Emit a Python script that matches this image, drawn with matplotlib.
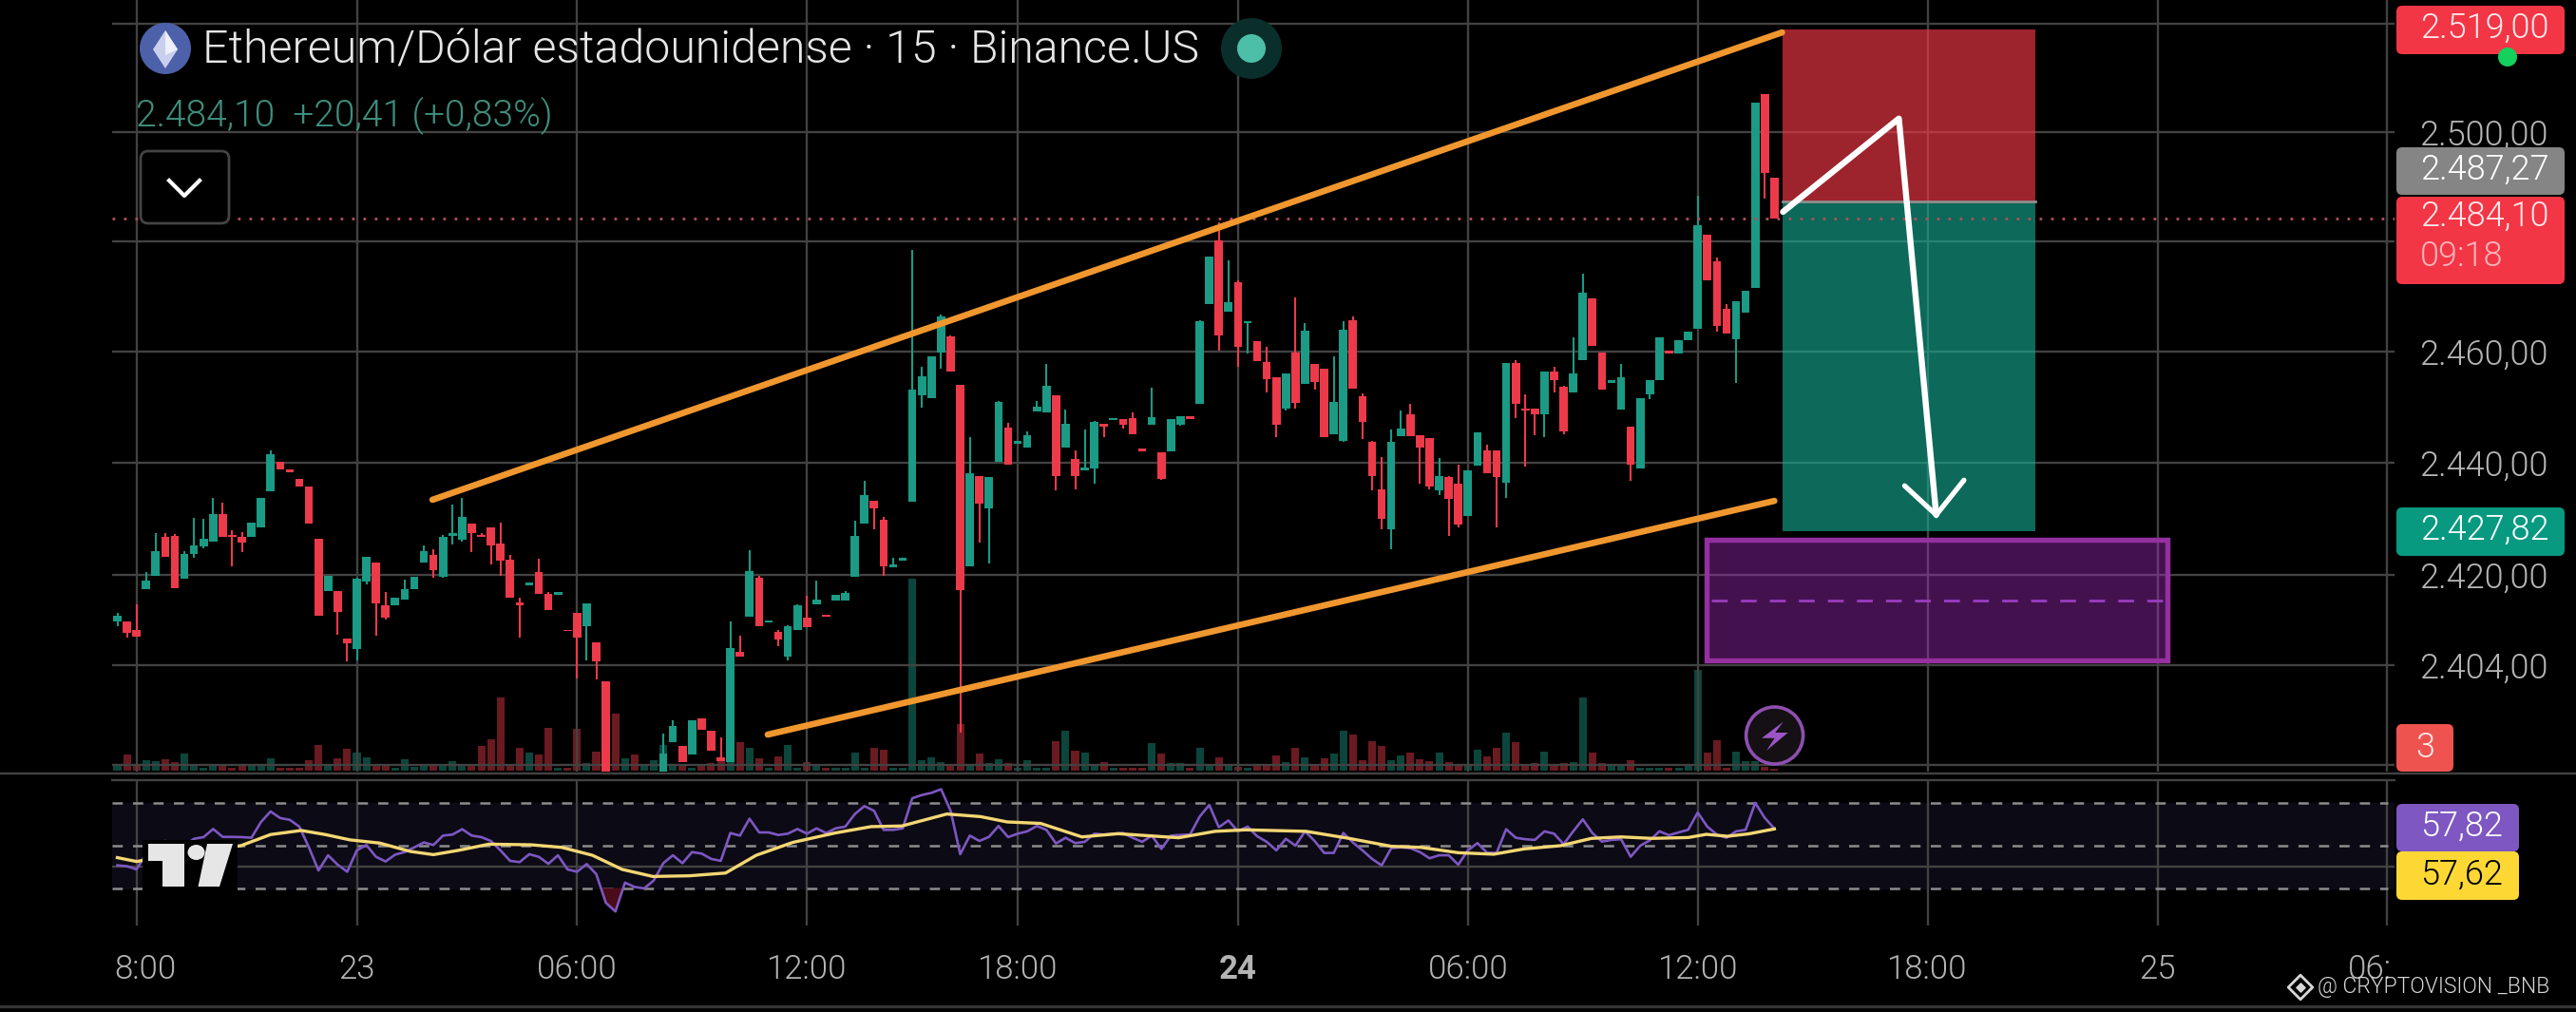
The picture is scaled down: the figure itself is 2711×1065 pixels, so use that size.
import numpy as np
import matplotlib
matplotlib.use("Agg")
import matplotlib.pyplot as plt
from matplotlib.patches import Rectangle, FancyBboxPatch, Circle, Ellipse, Polygon
from matplotlib.transforms import ScaledTranslation

W, H = 2711, 1065
DPI = 100
plt.rcParams['font.family'] = ['Roboto', 'DejaVu Sans']

opens = [2411.8,2411.8,2410.3,2417.4,2419.8,2426.8,2427.0,2419.4,2423.7,2425.1,
 2426.0,2430.9,2427.2,2426.7,2426.7,2428.4,2434.9,2440.1,2438.8,2437.2,
 2435.8,2426.5,2417.1,2417.1,2408.7,2406.9,2418.8,2422.2,2414.6,2414.6,
 2415.6,2417.4,2422.2,2423.5,2419.6,2427.0,2426.3,2429.1,2427.1,2428.5,
 2425.6,2422.7,2415.2,2418.2,2420.5,2416.6,2416.4,2410.3,2413.3,2410.9,
 2408.1,2401.2,2382.0,2378.0,2381.0,2379.0,2380.0,2383.0,2390.3,2389.7,
 2388.1,2394.6,2392.4,2387.6,2386.8,2406.4,2412.6,2419.5,2411.5,2409.9,
 2405.6,2410.2,2412.5,2414.7,2413.0,2415.4,2415.4,2419.7,2429.1,2433.2,
 2429.8,2421.4,2422.6,2433.0,2452.2,2451.6,2459.9,2462.7,
 2454.1,2421.5,2437.6,2431.9,2440.2,2446.4,2443.5,2442.7,2449.2,2449.0,
 2452.2,2442.7,2440.7,2438.7,2438.9,2447.0,2447.7,2447.9,2448.1,2442.5,
 2446.8,2441.8,2442.1,2446.9,2448.3,2450.6,2468.7,2480.1,2467.2,2472.6,
 2465.2,2461.9,2458.2,2455.3,2449.7,2459.9,2454.2,2457.7,2456.9,2445.1,
 2443.9,2465.7,2452.0,2443.7,2435.3,2428.2,2444.8,2448.8,2445.0,2444.4,
 2435.1,2437.4,2436.2,2430.5,2439.5,2442.3,2442.3,2436.5,2458.0,2449.7,
 2449.8,2448.7,2456.4,2453.7,2452.7,2458.4,2469.6,2459.9,2454.4,2449.6,
 2446.5,2439.0,2452.3,2454.9,2460.1,2459.7,2462.0,2464.2,2481.3,2476.3,
 2467.8,2462.3,2467.0,2471.5,2507.0,2491.6]
highs = [2413.3,2411.8,2414.8,2420.5,2427.4,2427.5,2427.3,2424.2,2430.1,2430.0,
 2433.7,2432.8,2427.9,2427.7,2429.4,2433.7,2442.3,2440.1,2438.8,2437.2,
 2435.8,2426.5,2419.9,2417.1,2408.7,2419.5,2423.3,2422.2,2417.0,2415.9,
 2419.2,2419.6,2425.3,2424.6,2427.2,2432.6,2433.7,2429.1,2427.4,2428.5,
 2429.3,2423.5,2415.9,2418.6,2422.9,2417.0,2416.9,2410.3,2413.3,2414.9,
 2408.1,2401.2,2384.0,2383.0,2382.0,2382.0,2384.0,2391.9,2394.2,2389.7,
 2394.2,2394.6,2392.4,2391.2,2411.8,2409.3,2424.4,2419.9,2411.9,2410.2,
 2411.1,2414.8,2416.3,2419.0,2413.0,2416.4,2417.1,2429.6,2436.7,2433.2,
 2430.3,2423.0,2423.0,2478.4,2457.2,2459.2,2466.8,2463.0,
 2454.1,2444.6,2437.7,2437.4,2451.1,2447.1,2443.9,2445.7,2451.1,2457.7,
 2452.2,2449.5,2442.2,2446.0,2447.5,2447.0,2448.0,2447.9,2449.1,2442.5,
 2453.5,2441.8,2447.9,2448.3,2448.3,2465.7,2477.2,2483.5,2476.5,2473.0,
 2465.6,2461.9,2460.8,2455.3,2456.0,2469.9,2465.2,2457.7,2456.9,2459.2,
 2465.6,2466.3,2452.5,2443.9,2441.0,2446.0,2449.4,2450.6,2445.0,2444.4,
 2440.9,2437.7,2439.6,2438.6,2445.4,2443.2,2442.3,2458.0,2458.5,2452.3,
 2449.8,2456.4,2457.3,2453.9,2462.6,2474.1,2469.6,2459.9,2454.9,2457.7,
 2446.5,2451.6,2454.9,2462.5,2460.1,2462.0,2463.7,2488.4,2481.3,2477.0,
 2468.7,2469.2,2471.0,2505.4,2507.0,2491.6]
lows = [2410.9,2408.8,2409.0,2417.4,2419.8,2423.2,2417.6,2419.4,2423.0,2424.7,
 2426.0,2426.7,2421.5,2424.0,2426.7,2428.4,2434.9,2438.8,2438.3,2435.8,
 2429.1,2412.8,2417.1,2409.4,2404.7,2404.8,2418.3,2409.2,2412.1,2414.6,
 2415.6,2417.4,2422.2,2419.5,2419.5,2425.4,2426.0,2424.1,2426.7,2421.9,
 2419.8,2415.9,2408.8,2418.2,2416.6,2413.7,2416.4,2410.0,2401.7,2404.9,
 2401.4,2380.0,2378.0,2377.0,2378.0,2378.0,2379.0,2383.0,2390.3,2386.8,
 2388.1,2392.5,2388.8,2387.0,2386.8,2405.6,2412.6,2410.9,2411.5,2407.4,
 2404.9,2410.2,2410.8,2414.7,2412.6,2415.4,2415.4,2419.7,2429.1,2428.1,
 2419.9,2421.4,2422.6,2433.0,2449.9,2451.6,2457.0,2456.4,
 2392.0,2421.5,2425.8,2422.1,2440.2,2439.7,2443.5,2442.7,2449.2,2449.0,
 2435.1,2442.7,2435.3,2438.7,2436.3,2444.7,2447.7,2446.2,2445.1,2442.1,
 2446.8,2437.0,2442.1,2446.7,2447.9,2450.6,2468.7,2460.1,2467.2,2457.2,
 2459.7,2458.3,2452.7,2444.7,2449.4,2449.7,2454.2,2453.2,2444.7,2445.1,
 2443.7,2453.4,2444.2,2435.1,2428.1,2424.5,2444.8,2444.8,2436.3,2435.3,
 2434.2,2427.0,2428.4,2430.5,2439.5,2438.1,2428.4,2433.7,2448.0,2439.4,
 2445.0,2444.6,2452.7,2445.1,2452.7,2458.4,2461.0,2453.1,2454.4,2449.6,
 2436.7,2439.0,2451.5,2454.9,2459.7,2459.7,2462.0,2464.2,2473.0,2463.7,
 2463.3,2454.4,2467.0,2471.5,2487.8,2484.1]
closes = [2412.8,2409.7,2409.0,2419.0,2424.2,2423.2,2417.6,2423.7,2425.3,2426.5,
 2430.9,2426.7,2426.8,2425.7,2429.4,2433.7,2441.6,2438.8,2438.3,2435.8,
 2429.1,2412.8,2419.9,2413.5,2407.9,2419.4,2423.3,2415.0,2412.5,2415.9,
 2417.4,2419.6,2424.2,2420.8,2426.7,2427.4,2430.3,2427.5,2426.7,2425.3,
 2422.6,2415.9,2414.6,2418.6,2416.6,2413.7,2416.9,2410.0,2408.8,2414.9,
 2404.7,2380.0,2379.0,2381.0,2379.0,2380.0,2383.0,2388.3,2393.3,2386.8,
 2394.2,2392.5,2388.8,2387.0,2407.0,2405.6,2420.6,2410.9,2411.9,2408.5,
 2410.9,2414.6,2410.8,2415.6,2412.6,2416.4,2416.8,2427.0,2434.2,2431.9,
 2421.5,2421.9,2423.0,2453.2,2455.6,2459.2,2466.3,2456.4,
 2417.3,2438.1,2432.7,2437.4,2450.9,2439.7,2443.9,2445.0,2450.0,2453.8,
 2437.7,2447.0,2437.7,2439.1,2447.4,2446.5,2448.0,2446.8,2445.1,2442.1,
 2448.2,2437.2,2447.9,2448.3,2447.9,2465.5,2477.2,2463.0,2468.9,2460.8,
 2465.6,2458.3,2455.0,2446.8,2456.0,2450.8,2463.8,2454.6,2444.7,2451.0,
 2463.9,2453.4,2447.4,2437.6,2430.0,2443.7,2446.1,2444.8,2442.7,2435.8,
 2437.7,2433.5,2428.9,2438.6,2445.4,2438.1,2437.4,2458.0,2450.6,2449.4,
 2448.7,2456.4,2454.9,2445.7,2456.1,2470.7,2461.0,2453.1,2454.9,2455.3,
 2439.7,2451.6,2454.9,2462.5,2459.7,2462.0,2463.7,2482.9,2473.0,2464.7,
 2463.3,2469.2,2471.0,2505.4,2492.5,2484.1]
volumes = [1.4,4.2,1.4,2.7,2.5,2.9,2.2,4.4,1.5,.7,
 1.2,1.2,.7,1.7,1.5,1.2,3.2,.7,.7,.7,
 2.7,6.7,1.4,3.2,5.7,4.7,3.4,1.7,1.5,.7,
 2.9,.9,1.2,1.2,1.2,2.5,1.4,1.2,6.4,8.2,
 18.9,1.4,5.9,4.7,4.2,11,.7,.7,10.9,1.9,
 4.9,4.5,14.7,3.2,4.2,1.2,2.7,6.7,1.4,1.4,
 .7,1.2,1.9,3.4,2.7,7.4,5.9,3.2,.7,3.7,
 6.5,.7,2.2,1.2,.7,.7,.7,4.7,.7,5.9,
 5.4,.7,.7,49.4,2.7,3.4,2.2,1.7,
 11.9,1.4,4.4,1.9,2.9,2.0,.7,2.7,.7,.7,
 7.7,10.2,5.2,4.7,1.5,2.1,.7,.7,.7,.7,
 7.0,4.5,2.0,2.0,.7,6.0,1.4,3.4,1.2,.9,
 .7,1.4,1.7,3.9,2.2,6.0,3.4,1.2,3.2,4.4,
 10.2,9.2,2.7,7.5,6.4,2.7,3.9,4.7,2.9,2.4,
 4.7,2.2,1.2,1.2,5.5,3.7,6.0,9.7,7.4,1.7,
 1.9,4.9,1.7,1.9,2.2,18.9,4.7,1.9,1.4,1.7,
 2.7,.7,.7,.7,.7,.7,1.2,25.9,4.7,7.9,
 .7,4.9,2.5,2.5,.9,.5]
rsi = [40.6,40.2,38.7,46.1,51.3,52.0,50.5,49.8,53.0,53.8,57.6,53.9,53.9,53.8,53.5,60.9,65.8,62.7,61.9,58.7,
 49.0,38.2,45.3,40.9,37.6,47.6,50.1,44.6,42.4,45.6,46.8,49.0,51.3,50.1,54.5,55.0,57.5,54.5,53.8,52.0,
 47.6,42.7,42.1,45.8,44.6,41.3,45.3,38.7,37.6,41.2,36.5,23.1,19.0,32.5,30.5,29.8,33.5,41.6,45.3,41.6,
 46.8,46.1,43.6,42.7,55.7,54.5,62.4,56.0,56.0,54.8,55.4,57.6,55.4,57.9,55.7,57.9,58.7,64.6,68.3,66.1,
 57.2,57.2,57.9,72.0,73.5,74.5,76.2,66.1,45.8,54.5,52.0,53.9,59.0,53.8,55.4,56.5,59.0,
 57.2,50.8,53.5,51.0,51.6,55.4,55.0,55.4,55.7,53.5,51.6,54.5,48.3,54.5,54.8,55.0,63.4,68.8,58.4,61.6,56.5,58.7,
 54.2,51.6,47.6,53.0,49.8,56.5,52.0,46.4,46.4,55.7,51.3,47.6,43.6,40.6,48.6,49.0,48.6,46.8,43.9,45.3,45.3,40.9,
 47.6,51.0,46.5,46.4,57.5,53.5,52.8,52.5,56.5,55.4,50.5,56.5,62.1,55.7,51.7,52.5,52.8,44.6,49.8,52.3,56.5,54.7,
 56.0,57.2,65.3,58.7,55.0,53.5,56.5,57.2,69.8,62.8,57.8]
ma_index = [0,2,7,12.9,16,19.2,21.7,24.3,27.4,30.6,33,35.6,38.8,43.2,46.4,49.6,52.7,55.9,59.7,63.5,66.7,70.5,74.9,78.7,81.9,86.6,90.1,92.9,96.4,
 100.7,104.5,110.8,114.6,117.8,124.1,128.6,133,136.1,140,143.7,146.9,150.7,153.9,157,160.2,164,165.9,168.1,170.3,173]
ma_values = [44.2,42.4,46,49.8,55.0,56.9,55.0,52.5,51.0,47.1,45.6,47.6,50.5,50.2,49.0,45.3,38.7,35.4,35.7,37.0,45.3,51.3,55.7,58.7,59.0,64.6,63.4,60.9,60.2,
 53.9,55.4,53.5,56.5,57.2,56.5,53.2,49.5,49.0,46.5,45.8,48.3,49.8,53.2,53.9,53.2,53.6,55.1,54.2,55.3,57.62]

time_ticks = [2,25,48,72,94,117,141,165,189,213,237]
time_labels = ["8:00","23","06:00","12:00","18:00","24","06:00","12:00","18:00","25","06:"]
price_ticks = [2404,2420,2440,2460,2480,2500,2520]
price_labels = ["2.404,00","2.420,00","2.440,00","2.460,00","","2.500,00",""]
last_price = 2484.10
entry_price = 2487.27
stop_price = 2519.00
target_price = 2427.82

GRID = '#424242'
RED = '#ec3a4a'
GREEN = '#1b9a85'
LIGHT = 300

fig = plt.figure(figsize=(W/DPI, H/DPI), dpi=DPI, facecolor='black')

def pane(y0, y1, z):
    a = fig.add_axes([118/W, 1-y1/H, (2520-118)/W, (y1-y0)/H], zorder=z)
    a.set_xlim((118-123.5)/10.08, (2520-123.5)/10.08)
    a.tick_params(length=0)
    for s in a.spines.values():
        s.set_visible(False)
    return a

# price scale: knots
kp = np.array([2380,2404,2420,2440,2460,2480,2500,2520,2540.])
ky = np.array([842.6,700,605,487,370,254,139,25,-89.])
fwd = lambda p: -np.interp(p, kp, ky)
inv = lambda v: np.interp(v, -ky, kp)

x = np.arange(len(closes))
o, hi, lo, c = map(np.array, (opens, highs, lows, closes))
up = c >= o
cols = np.where(up, GREEN, RED)

ax_vol = pane(0, 812, 1)
ax_vol.set_facecolor('black')
ax_vol.set_ylim(-0.245, 198.8)
ax_vol.bar(x, volumes, width=0.8, color=cols, alpha=0.45, linewidth=0)
ax_vol.axhline(1.5, color=GRID, lw=1.7)
ax_vol.set_xticks([]); ax_vol.set_yticks([])

ax = pane(0, 812, 2)
ax.patch.set_alpha(0)
ax.set_yscale('function', functions=(fwd, inv))
ax.set_ylim(float(inv(-812)), float(inv(0)))
ax.set_yticks(price_ticks, price_labels)
ax.minorticks_off()
ax.yaxis.tick_right()
ax.tick_params(axis='y', pad=19, labelsize=26, labelcolor='#b4b4b4', length=0)
for t in ax.get_yticklabels():
    t.set_fontweight(LIGHT)
ax.set_xticks(time_ticks, [])
ax.grid(True, color=GRID, lw=1.7)
ax.set_axisbelow(True)

ax.vlines(x, lo, hi, colors=cols, lw=1.5, zorder=3)
ax.bar(x, np.abs(c-o), bottom=np.minimum(o, c), width=0.86, color=cols, linewidth=0, zorder=3)

# long/short position, see-through so the grid shows
ax.add_patch(Rectangle((173.9, entry_price), 26.3, stop_price-entry_price, fc='#f23645', alpha=0.65, ec='none', zorder=4))
ax.add_patch(Rectangle((173.9, target_price), 26.3, entry_price-target_price, fc='#16ab91', alpha=0.62, ec='none', zorder=4))
ax.plot([173.9, 200.2], [entry_price]*2, color='#8f8f8f', lw=2, zorder=4)

ax.axhline(last_price, color='#b0505c', lw=2, ls=(0, (1, 3.32)), zorder=5)

# zone
ax.add_patch(Rectangle((165.9, 2404.9), 48.1, 21.3, fc='#a02cbc', alpha=0.42, ec='none', zorder=4))
ax.add_patch(Rectangle((165.9, 2404.9), 48.1, 21.3, fc='none', ec='#94309f', lw=3.9, zorder=4))
ax.plot([166.4, 213.5], [2415.5, 2415.5], color='#9a3cc0', lw=2, ls=(0, (6, 5)), zorder=5)

# channel
ax.plot([32.9, 173.8], [2433.4, 2518.4], color='#f0972f', lw=4.8, solid_capstyle='round', zorder=6)
ax.plot([67.9, 173.0], [2391.7, 2433.2], color='#f0972f', lw=4.8, solid_capstyle='round', zorder=6)

# arrow
ax.plot([173.9, 186, 189.9], [2485.4, 2502.5, 2430.7], color='white', lw=4.6, solid_joinstyle='round', solid_capstyle='round', zorder=7)
ax.plot([186.6, 189.9, 192.8], [2435.9, 2430.7, 2436.9], color='white', lw=3.8, solid_joinstyle='miter', solid_capstyle='round', zorder=7)

# RSI pane
ar = pane(821, 974, 2)
ar.set_facecolor('black')
ar.set_ylim(50+(889.5-974)/2.25, 50+(889.5-821)/2.25)
ar.axhspan(30, 70, color='#0c0a14', zorder=0)
ar.set_xticks(time_ticks, time_labels)
ar.tick_params(axis='x', pad=21.5, labelsize=25, labelcolor='#b4b4b4', length=0)
for t in ar.get_xticklabels():
    t.set_fontweight(LIGHT)
ar.set_yticks([40], [])
ar.grid(True, color=GRID, lw=1.7)
ar.set_axisbelow(True)
ar.spines['top'].set_visible(True); ar.spines['top'].set_color(GRID); ar.spines['top'].set_linewidth(1.7)
for lev in (70, 50, 30):
    ar.axhline(lev, color='#8c8c8c', lw=1.8, ls=(0, (4.3, 4.3)), xmax=0.997, zorder=1)
rs = np.array(rsi)
ar.fill_between(x, rs, 30, where=rs < 30, color='#4a0c18', lw=0, interpolate=True, zorder=2)
ar.plot(x, rs, color='#7d57c2', lw=1.9, zorder=3)
ar.plot(ma_index, ma_values, color='#f4d774', lw=2.4, zorder=4)

lab = ar.get_xticklabels()
lab[0].set_transform(lab[0].get_transform()+ScaledTranslation(9/DPI, 0, fig.dpi_scale_trans))
lab[-1].set_transform(lab[-1].get_transform()+ScaledTranslation(-18.5/DPI, 0, fig.dpi_scale_trans))
lab[5].set_fontweight('bold')

# overlay in figure pixels: badges, header, logos
ov = fig.add_axes([0, 0, 1, 1], zorder=10)
ov.set_xlim(0, W); ov.set_ylim(H, 0); ov.axis('off'); ov.patch.set_alpha(0)

def badge(x0, x1, y0, y1, col):
    ov.add_patch(FancyBboxPatch((x0, y0), x1-x0, y1-y0, boxstyle='round,pad=0,rounding_size=6', fc=col, ec='none'))

FS = 26
badge(2522, 2699, 6, 57, '#f23645')
ov.text(2547, 30, '2.519,00', color='#ffe8ea', fontsize=FS, va='center', fontweight=LIGHT)
ov.add_patch(Circle((2639, 60), 10, fc='#14d05c', ec='none'))
badge(2522, 2699, 155, 205, '#858585')
ov.text(2547, 179, '2.487,27', color='white', fontsize=FS, va='center', fontweight=LIGHT)
badge(2522, 2699, 207, 299, '#f23645')
ov.text(2547, 228, '2.484,10', color='#ffe8ea', fontsize=FS, va='center', fontweight=LIGHT)
ov.text(2547, 270, '09:18', color='#fbb4bb', fontsize=FS, va='center', fontweight=LIGHT)
badge(2522, 2699, 534, 585, '#089981')
ov.text(2547, 558, '2.427,82', color='white', fontsize=FS, va='center', fontweight=LIGHT)
badge(2522, 2582, 762, 812, '#ef5350')
ov.text(2552, 787, '3', color='#ffe8ea', fontsize=FS, va='center', ha='center', fontweight=LIGHT)
badge(2522, 2651, 846, 896, '#7e57c2')
ov.text(2547, 870, '57,82', color='white', fontsize=FS, va='center', fontweight=LIGHT)
badge(2522, 2651, 896, 947, '#fdd835')
ov.text(2547, 921, '57,62', color='black', fontsize=FS, va='center', fontweight=LIGHT)

ov.plot([0, W], [813.5, 813.5], color=GRID, lw=1.7)
ov.plot([0, W], [1059, 1059], color='#333333', lw=2.4)

# header
ov.add_patch(Circle((174, 51), 27, fc='#4d60aa', ec='none'))
ov.add_patch(Polygon([(174, 32), (187, 52), (174, 72), (161, 52)], fc='#c9d0ee', ec='none'))
ov.add_patch(Polygon([(174, 32), (187, 52), (174, 58)], fc='#eef0fa', ec='none'))
ov.text(213, 54, 'Ethereum/Dólar estadounidense · 15 · Binance.US', color='#e6e6e6', fontsize=34.75, va='center', fontweight=LIGHT)
ov.add_patch(Circle((1317, 51), 32, fc='#0a2f2b', ec='none'))
ov.add_patch(Circle((1317, 51), 15, fc='#4dbfa8', ec='none'))
ov.text(143, 122, '2.484,10  +20,41 (+0,83%)', color='#3f8f7e', fontsize=28, va='center', fontweight=LIGHT)
ov.add_patch(FancyBboxPatch((148, 159), 93, 76, boxstyle='round,pad=0,rounding_size=8', fc='black', ec='#444444', lw=2))
ov.plot([178, 194, 210], [190, 206, 190], color='white', lw=3)

# tradingview mark
ov.add_patch(Rectangle((150, 884), 100, 54, fc='black', ec='none'))
ov.add_patch(Polygon([(156, 888), (194.4, 888), (194.4, 933), (171.4, 933), (171.4, 906), (156, 906)], fc='#e6e6e6', ec='none'))
ov.add_patch(Ellipse((206.5, 897), 18, 16, fc='#e6e6e6', ec='none'))
ov.add_patch(Polygon([(218, 888), (245, 888), (231, 933), (208.5, 933)], fc='#e6e6e6', ec='none'))

# lightning icon
ov.add_patch(Circle((1867.6, 774), 30, fc='#141014', ec='#8e4fb0', lw=2.6))
ov.add_patch(Polygon([(1876.8, 759.5), (1854, 776.8), (1867.6, 776.8), (1859, 790), (1881.7, 771), (1868.3, 771)], fc='#9c55c6', ec='none'))

# watermark
ov.scatter([2421], [1039], marker='D', s=170, facecolor='none', edgecolor='#d8d8d8', lw=2)
ov.scatter([2421], [1039], marker='D', s=22, color='#d8d8d8')
ov.text(2439, 1039, '@ CRYPTOVISION _BNB', color='#d8d8d8', fontsize=16.5, va='center', fontweight=LIGHT)

fig.savefig('out.png', dpi=DPI, facecolor='black')
